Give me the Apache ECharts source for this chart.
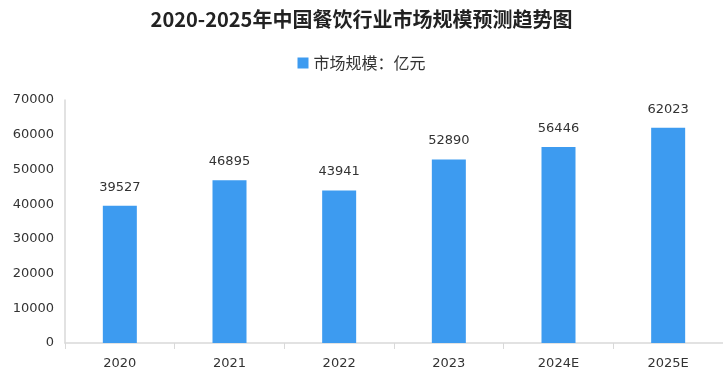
<!DOCTYPE html>
<html><head><meta charset="utf-8">
<script src="https://cdn.jsdelivr.net/npm/echarts@6/dist/echarts.min.js"></script>
<style>html,body{margin:0;padding:0;background:#fff}#c{width:723px;height:381px}</style>
</head><body><div id="c"></div>
<script>
const categories = ['2020','2021','2022','2023','2024E','2025E'];
const values = [39527, 46895, 43941, 52890, 56446, 62023];
const seriesName = '市场规模：亿元';
const titleText = '2020-2025年中国餐饮行业市场规模预测趋势图';

const chart = echarts.init(document.getElementById('c'));
chart.setOption({
  animation: false,
  title: {
    text: titleText, left: 'center', top: 4,
    textStyle: { fontFamily: '"Noto Sans CJK SC", sans-serif', fontSize: 20, fontWeight: 'bold', color: '#222' }
  },
  legend: {
    top: 50, left: 'center', itemWidth: 11, itemHeight: 11, icon: 'rect', itemGap: 8,
    textStyle: { fontFamily: '"Noto Sans CJK SC", sans-serif', fontSize: 16, color: '#333' }
  },
  grid: { left: 65, right: 0, top: 100, bottom: 38 },
  xAxis: {
    type: 'category', data: categories,
    axisLine: { lineStyle: { color: '#d9d9d9', width: 1.5 } },
    axisTick: { show: true, lineStyle: { color: '#d9d9d9' }, length: 6 },
    axisLabel: { color: '#333', fontSize: 13, fontFamily: '"DejaVu Sans", sans-serif', margin: 14 }
  },
  yAxis: {
    type: 'value', min: 0, max: 70000, interval: 10000,
    axisLine: { show: true, lineStyle: { color: '#d9d9d9', width: 1.5 } },
    axisTick: { show: false },
    splitLine: { show: false },
    axisLabel: { color: '#333', fontSize: 13, fontFamily: '"DejaVu Sans", sans-serif', margin: 11, formatter: v => String(v) }
  },
  series: [{
    name: seriesName, type: 'bar', data: values, barWidth: 34,
    itemStyle: { color: '#3d9bf0' },
    label: { show: true, position: 'top', distance: 12, color: '#333', fontSize: 13, fontFamily: '"DejaVu Sans", sans-serif' }
  }]
});
</script></body></html>
